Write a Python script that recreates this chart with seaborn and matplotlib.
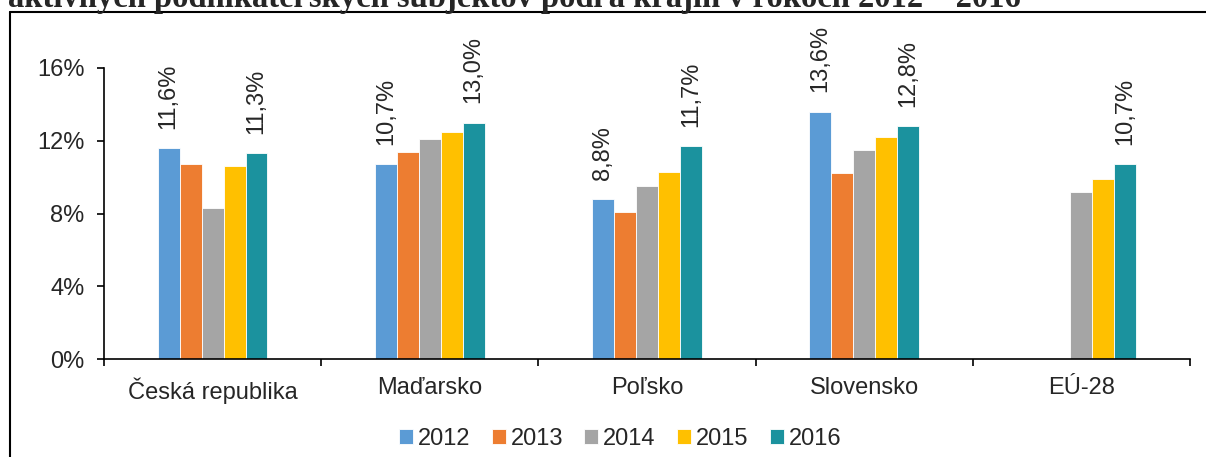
import numpy as np
import pandas as pd
import matplotlib
matplotlib.use("Agg")
import matplotlib.pyplot as plt
import seaborn as sns
from matplotlib.lines import Line2D

# Data
countries = ["Česká republika", "Maďarsko", "Poľsko", "Slovensko", "EÚ-28"]
years = ["2012", "2013", "2014", "2015", "2016"]
v2012 = [11.6, 10.7, 8.8, 13.6, np.nan]
v2013 = [10.7, 11.4, 8.1, 10.2, np.nan]
v2014 = [8.3, 12.1, 9.5, 11.5, 9.2]
v2015 = [10.6, 12.5, 10.3, 12.2, 9.9]
v2016 = [11.3, 13.0, 11.7, 12.8, 10.7]
labeled_years = ["2012", "2016"]
colors = ["#5B9BD5", "#ED7D31", "#A5A5A5", "#FFC000", "#1B929E"]
title = "aktívnych podnikateľských subjektov podľa krajín v rokoch 2012 – 2016"

values = dict(zip(years, [v2012, v2013, v2014, v2015, v2016]))
rows = []
for y in years:
    for c, v in zip(countries, values[y]):
        rows.append({"country": c, "year": y, "value": v})
df = pd.DataFrame(rows).dropna()

# Style
sns.set_style("white")
plt.rcParams["font.family"] = ["Liberation Sans", "DejaVu Sans"]
fs = 17

W, H = 1206, 457
fig = plt.figure(figsize=(W / 100, H / 100), dpi=100)
ax = fig.add_axes([104 / W, 1 - 359 / H, (1190 - 104) / W, (359 - 68) / H])

sns.barplot(data=df, x="country", y="value", hue="year", order=countries,
            hue_order=years, palette=colors, saturation=1, width=0.505, gap=0,
            errorbar=None, edgecolor="white", linewidth=0.6, ax=ax)

# labels on first and last year
for cont, y in zip(ax.containers, years):
    if y in labeled_years:
        labs = [f"{v:.1f}%".replace(".", ",") for v in cont.datavalues]
        ax.bar_label(cont, labels=labs, rotation=90, padding=14, fontsize=fs)

ax.set_xlim(-0.5, 4.5)
ax.set_ylim(0, 16)
ax.set_yticks([0, 4, 8, 12, 16])
ax.set_yticklabels([f"{t}%" for t in [0, 4, 8, 12, 16]])
ax.set_xlabel("")
ax.set_ylabel("")
ax.set_xticks(np.arange(-0.5, 5, 1), minor=True)
ax.tick_params(axis="x", which="major", length=0, pad=13, labelsize=fs)
ax.tick_params(axis="x", which="minor", length=5, width=1.2, direction="out", bottom=True, color="black")
ax.tick_params(axis="y", length=5, width=1.2, direction="out", left=True, pad=9, labelsize=fs, color="black")
for s in ["top", "right"]:
    ax.spines[s].set_visible(False)
for s in ["left", "bottom"]:
    ax.spines[s].set_color("black")
    ax.spines[s].set_linewidth(1.2)

# legend
handles, labels = ax.get_legend_handles_labels()
ax.get_legend().remove()
fig.legend(handles, labels, loc="center", bbox_to_anchor=(620 / W, 1 - 439 / H),
           ncol=5, frameon=False, fontsize=fs, handlelength=0.6, handleheight=0.6,
           handletextpad=0.2, columnspacing=0.9)

# frame + title cut off at the top, as in the source
fig.add_artist(Line2D([10 / W, 10 / W], [0, 1 - 12 / H], color="black", lw=1.5))
fig.add_artist(Line2D([10 / W, 1], [1 - 12 / H, 1 - 12 / H], color="black", lw=1.5))
fig.text(8 / W, 1 - 7 / H, title, fontsize=23.5, fontweight="bold",
         fontfamily="Liberation Serif", va="baseline", ha="left")

fig.savefig("out.png", dpi=100)
